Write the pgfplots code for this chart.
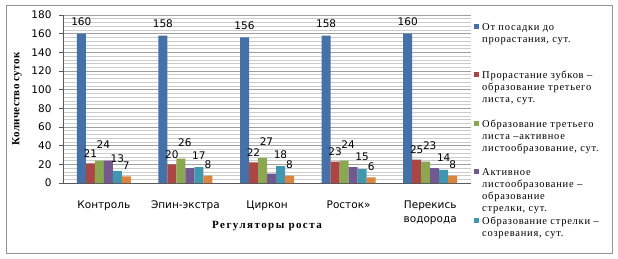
\documentclass[border=0pt]{standalone}
\usepackage{fontspec}
\setmainfont{Liberation Serif}
\newfontfamily\dejavu{DejaVu Sans}
\newfontfamily\lserif[LetterSpace=7]{Liberation Serif}
\newfontfamily\ttlfont[LetterSpace=13]{Liberation Serif}
\newfontfamily\ylfont[LetterSpace=3]{Liberation Serif}
\usepackage{pgfplots}
\pgfplotsset{compat=1.18}
\definecolor{cblue}{HTML}{4571A8}
\definecolor{cred}{HTML}{AA4644}
\definecolor{cgreen}{HTML}{8BA750}
\definecolor{cpurple}{HTML}{72588F}
\definecolor{cteal}{HTML}{4197AF}
\definecolor{corange}{HTML}{DA843D}
\newcommand{\lent}[1]{\rule{0pt}{9pt}\smash{\parbox[t]{135pt}{#1}}}
\begin{document}
\begin{tikzpicture}[x=1pt,y=1pt]
\path (0,0) rectangle (618,258);
\draw[color=gray!85] (6,5) rectangle (612,253);
\begin{axis}[
  at={(63pt,75pt)}, anchor=south west, scale only axis,
  width=408pt, height=168pt,
  /pgf/number format/assume math mode=true,
  ybar=0pt, bar width=9pt,
  xmin=-0.5, xmax=4.5, ymin=0, ymax=180,
  xtick={0,1,2,3,4},
  xticklabels={Контроль, Эпин-экстра, Циркон, Росток», {Перекись\\водорода}},
  xticklabel style={font=\dejavu\fontsize{10.5}{14}\selectfont, align=center, yshift=-10pt},
  major x tick style={draw=none},
  ytick={0,20,...,180}, minor y tick num=4,
  ymajorgrids, yminorgrids,
  major grid style={color=gray!75, line width=0.5pt},
  minor grid style={color=gray!40, line width=0.5pt},
  axis x line*=bottom, axis y line*=left,
  axis line style={-, color=gray!70!black, line width=0.5pt},
  tick align=outside,
  major tick length=4pt,
  minor tick style={draw=none},
  major y tick style={color=gray!70!black, line width=0.5pt},
  yticklabel style={font=\dejavu\fontsize{10.5}{12}\selectfont, xshift=-4pt},
  xlabel={Регуляторы роста},
  ylabel={Количество суток},
  xlabel style={font=\ttlfont\bfseries\fontsize{11}{13}\selectfont, at={(axis description cs:0.5,-0.254)}, anchor=center},
  ylabel style={font=\ylfont\bfseries\fontsize{11}{13}\selectfont, at={(axis description cs:-0.113,0.5)}, anchor=center},
  legend image code/.code={\fill[#1] (0pt,1.5pt) rectangle (5pt,6.5pt);},
  legend style={at={(axis description cs:1.0074,0.964)}, anchor=north west,
    draw=none, fill=none, inner sep=0pt, row sep=38pt, column sep=3pt,
    cells={anchor=base west},
    nodes={inner sep=0pt, font=\lserif\fontsize{10.5}{12}\selectfont}},
  every node near coord/.append style={font=\dejavu\fontsize{10.5}{12}\selectfont, color=black},
]
\addplot[fill=cblue, draw=none, nodes near coords, every node near coord/.append style={yshift=4pt}]
  coordinates {(0,160) (1,158) (2,156) (3,158) (4,160)};
\addlegendentry{\lent{От посадки до\\прорастания,  сут.}}
\addplot[fill=cred, draw=none, nodes near coords, every node near coord/.append style={yshift=2.5pt}]
  coordinates {(0,21) (1,20) (2,22) (3,23) (4,25)};
\addlegendentry{\lent{Прорастание зубков –\\образование третьего\\листа, сут.}}
\addplot[fill=cgreen, draw=none, nodes near coords, every node near coord/.append style={yshift=8.5pt, xshift=4pt}]
  coordinates {(0,24) (1,26) (2,27) (3,24) (4,23)};
\addlegendentry{\lent{Образование третьего\\листа –активное\\листообразование,  сут.}}
\addplot[fill=cpurple, draw=none]
  coordinates {(0,24) (1,16) (2,10) (3,17) (4,16)};
\addlegendentry{\lent{Активное\\листообразование –\\образование\\стрелки, сут.}}
\addplot[fill=cteal, draw=none, nodes near coords, every node near coord/.append style={yshift=4.5pt}]
  coordinates {(0,13) (1,17) (2,18) (3,15) (4,14)};
\addlegendentry{\lent{Образование стрелки –\\созревания, сут.}}
\addplot[fill=corange, draw=none, nodes near coords, every node near coord/.append style={yshift=3pt}]
  coordinates {(0,7) (1,8) (2,8) (3,6) (4,8)};
\end{axis}
\end{tikzpicture}
\end{document}
